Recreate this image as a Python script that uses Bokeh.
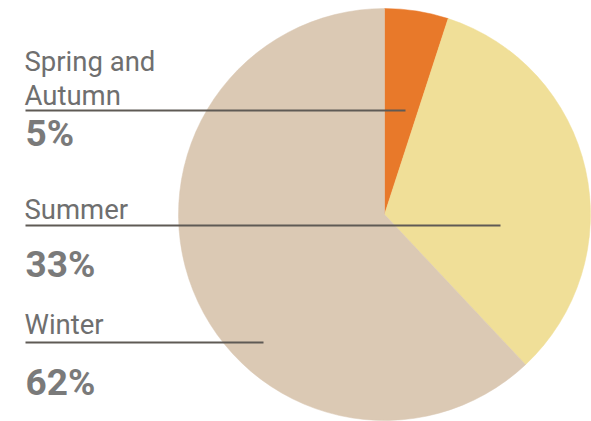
import math
from bokeh.plotting import figure
from bokeh.models import Range1d, ColumnDataSource
from bokeh.core.properties import value
from bokeh.embed import file_html
from bokeh.resources import INLINE

# ---- data ----
categories = ["Spring and\nAutumn", "Summer", "Winter"]
shares = [5, 33, 62]
pct_labels = ["5%", "33%", "62%"]
colors = ["#E8792A", "#F0DF98", "#DBC9B4"]

# ---- layout (image pixel coordinates, y measured from top) ----
W, H = 591, 421
IMG_H = 421
cx, cy, r = 384, 214, 206
label_x = 25
label_base = [95, 209, 324]      # baseline of (last line of) category label
line_y = [110, 225, 342]
line_x_end = [405, 500, 263]
pct_base = [133, 264, 382]

def Y(y):
    return IMG_H - y

p = figure(width=W, height=H, output_backend="svg", toolbar_location=None,
           x_range=Range1d(0, W), y_range=Range1d(IMG_H - H, IMG_H),
           min_border=0)
p.axis.visible = False
p.grid.visible = False
p.outline_line_color = None
p.background_fill_color = "white"
p.border_fill_color = "white"

total = sum(shares)
starts, ends = [], []
acc = 0
for s in shares:
    starts.append(math.pi / 2 - 2 * math.pi * acc / total)
    acc += s
    ends.append(math.pi / 2 - 2 * math.pi * acc / total)

src = ColumnDataSource(dict(start=starts, end=ends, color=colors))
p.wedge(x=cx, y=Y(cy), radius=r, start_angle="start", end_angle="end",
        direction="clock", fill_color="color", line_color="color", line_width=0.5,
        source=src)

# leader lines
for ly, lx in zip(line_y, line_x_end):
    p.line([label_x, lx], [Y(ly), Y(ly)], line_color="#5f5a55", line_width=2)

# category labels (split into lines)
for cat, base in zip(categories, label_base):
    lines = cat.split("\n")
    n = len(lines)
    for i, t in enumerate(lines):
        yb = base - (n - 1 - i) * 34
        p.text(x=[label_x - 1], y=[Y(yb)], text=[t], text_font=value("Roboto"),
               text_font_size="27.5px", text_color="#6f6f6f",
               text_baseline="alphabetic", text_align="left")

# percentages
for t, base in zip(pct_labels, pct_base):
    p.text(x=[label_x], y=[Y(base)], text=[t], text_font=value("Roboto"),
           text_font_size="37px", text_font_style="bold", text_color="#7a7a7a",
           text_baseline="alphabetic", text_align="left")

open("out.html", "w").write(file_html(p, INLINE))
